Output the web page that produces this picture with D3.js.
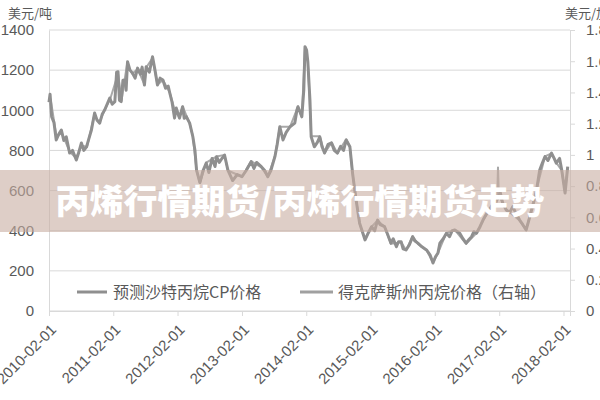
<!DOCTYPE html>
<html><head><meta charset="utf-8">
<script src="https://cdn.jsdelivr.net/npm/d3@7"></script>
<style>body{margin:0;background:#fff}svg{display:block}</style>
</head><body>
<svg id="c" width="600" height="400"></svg>
<script>
// ---- data ----
const cpDates = ["2010-02-01","2010-02-07","2010-02-16","2010-03-01","2010-03-14","2010-03-28","2010-04-12","2010-04-26","2010-05-10","2010-05-29","2010-06-15","2010-07-06","2010-07-20","2010-08-04","2010-08-18","2010-09-02","2010-09-16","2010-09-30","2010-10-18","2010-11-01","2010-11-16","2010-11-30","2010-12-14","2010-12-28","2011-01-12","2011-01-26","2011-02-10","2011-02-20","2011-02-28","2011-03-08","2011-03-18","2011-03-28","2011-04-07","2011-04-15","2011-04-23","2011-05-07","2011-05-21","2011-06-05","2011-06-19","2011-07-05","2011-07-15","2011-07-28","2011-08-07","2011-08-25","2011-09-12","2011-09-26","2011-10-10","2011-10-25","2011-11-10","2011-11-25","2011-12-10","2011-12-19","2012-01-01","2012-01-15","2012-01-25","2012-02-12","2012-03-01","2012-03-10","2012-03-22","2012-04-10","2012-04-28","2012-05-10","2012-05-19","2012-06-07","2012-06-25","2012-07-13","2012-07-28","2012-08-15","2012-09-01","2012-09-10","2012-09-25","2012-10-10","2012-10-25","2012-11-13","2012-12-10","2013-01-05","2013-02-01","2013-02-25","2013-03-25","2013-04-10","2013-04-25","2013-05-22","2013-06-10","2013-06-28","2013-07-15","2013-08-07","2013-08-20","2013-09-04","2013-09-22","2013-10-10","2013-11-01","2013-11-28","2013-12-10","2013-12-16","2014-01-07","2014-01-18","2014-01-25","2014-02-03","2014-02-10","2014-02-22","2014-03-01","2014-03-19","2014-04-05","2014-04-19","2014-05-01","2014-05-16","2014-06-05","2014-06-25","2014-07-10","2014-07-28","2014-08-15","2014-09-01","2014-09-16","2014-10-07","2014-10-22","2014-11-10","2014-12-01","2014-12-15","2015-01-01","2015-01-20","2015-02-07","2015-02-25","2015-03-13","2015-03-28","2015-04-22","2015-05-10","2015-05-28","2015-06-10","2015-06-28","2015-07-10","2015-07-25","2015-08-05","2015-08-22","2015-09-10","2015-09-28","2015-10-10","2015-10-28","2015-11-20","2015-12-16","2016-01-05","2016-01-22","2016-02-05","2016-02-19","2016-03-01","2016-03-20","2016-04-07","2016-04-25","2016-05-10","2016-05-25","2016-06-22","2016-07-10","2016-07-28","2016-08-12","2016-08-28","2016-09-10","2016-09-25","2016-10-15","2016-11-01","2016-11-28","2016-12-15","2016-12-28","2017-01-25","2017-02-07","2017-02-20","2017-03-13","2017-04-01","2017-04-19","2017-05-05","2017-05-28","2017-06-15","2017-07-04","2017-07-25","2017-08-15","2017-09-01","2017-09-19","2017-10-05","2017-10-19","2017-11-05","2017-11-25","2017-12-10","2017-12-22","2018-01-10","2018-01-22","2018-02-10","2018-02-25"];
const cpValues = [1040,1080,968,940,852,880,902,850,868,787,800,752,790,837,800,818,860,902,986,950,936,980,1001,1030,1061,1030,1043,1190,1192,1050,1043,1150,1151,1100,1242,1200,1185,1160,1210,1180,1215,1126,1217,1190,1267,1200,1126,1160,1151,1110,1120,1086,1040,961,1011,961,1018,960,968,936,868,800,702,640,700,737,690,760,720,769,740,760,777,702,650,680,669,700,744,710,740,719,700,669,700,769,830,918,852,890,918,936,1000,1018,968,1100,1317,1300,1242,1051,868,818,840,868,820,787,830,837,800,787,820,800,852,818,687,560,438,400,354,390,420,400,453,430,420,380,338,360,320,345,345,310,304,330,370,350,338,320,304,280,239,270,289,338,360,387,370,400,404,387,360,338,355,370,395,387,420,453,495,515,536,560,590,540,503,490,520,490,453,430,404,470,540,603,702,740,769,750,787,760,737,760,702,588,719];

const txDates = ["2010-02-10","2010-03-15","2010-04-15","2010-05-30","2010-07-05","2010-08-05","2010-09-05","2010-10-15","2010-11-15","2010-12-15","2011-01-15","2011-02-28","2011-03-20","2011-04-20","2011-05-20","2011-06-20","2011-07-28","2011-08-07","2011-09-12","2011-10-10","2011-11-10","2011-12-19","2012-01-15","2012-02-12","2012-03-01","2012-04-10","2012-04-28","2012-05-19","2012-06-07","2012-07-13","2012-09-10","2012-10-25","2012-11-13","2013-02-01","2013-03-25","2013-05-22","2013-06-28","2013-08-07","2013-09-04","2013-11-01","2013-12-16","2014-01-07","2014-01-25","2014-02-10","2014-03-01","2014-04-19","2014-05-16","2014-06-25","2014-07-28","2014-09-16","2014-10-07","2014-10-22","2014-12-01","2015-01-01","2015-02-07","2015-03-13","2015-04-22","2015-05-28","2015-07-25","2015-08-22","2015-09-28","2015-10-28","2015-12-16","2016-01-22","2016-02-19","2016-04-07","2016-05-25","2016-07-28","2016-09-25","2016-11-01","2016-12-28","2017-01-20","2017-01-25","2017-01-30","2017-03-13","2017-05-28","2017-07-04","2017-09-01","2017-10-19","2017-11-25","2017-12-22","2018-01-22","2018-02-10","2018-02-25"];
const txValues = [1.36,1.12,1.14,1.02,0.98,1.06,1.05,1.25,1.21,1.29,1.36,1.52,1.35,1.58,1.52,1.55,1.45,1.56,1.62,1.45,1.48,1.40,1.29,1.24,1.31,1.20,1.12,0.90,0.82,0.95,0.99,1.00,0.90,0.86,0.96,0.92,0.86,0.99,1.18,1.18,1.31,1.24,1.69,1.60,1.12,1.12,1.01,1.08,1.01,1.10,1.05,0.88,0.56,0.46,0.54,0.58,0.54,0.43,0.44,0.39,0.48,0.43,0.39,0.31,0.37,0.50,0.52,0.43,0.50,0.58,0.69,0.70,0.92,0.74,0.65,0.58,0.52,0.78,0.99,1.01,0.95,0.90,0.76,0.92];

const xTickLabels = ["2010-02-01","2011-02-01","2012-02-01","2013-02-01","2014-02-01","2015-02-01","2016-02-01","2017-02-01","2018-02-01"];
const leftTicks = [0,200,400,600,800,1000,1200,1400];
const rightTicks = [0,0.2,0.4,0.6,0.8,1,1.2,1.4,1.6,1.8];
const seriesNames = ["预测沙特丙烷CP价格","得克萨斯州丙烷价格（右轴）"];
const title = "丙烯行情期货/丙烯行情期货走势";

// ---- chart ----
const parse = d3.timeParse("%Y-%m-%d");
const svg = d3.select("#c");
const L = 49, R = 570, T = 30, B = 311;
const x = d3.scaleTime().domain([parse("2010-02-01"), parse("2018-03-10")]).range([L, R]);
const yL = d3.scaleLinear().domain([0,1400]).range([B, T]);
const yR = d3.scaleLinear().domain([0,1.8]).range([B, T]);
const txtCol = "#595959", gridCol = "#d9d9d9";
const latin = "'Liberation Sans', Arial, sans-serif";
const cjk = "'Noto Sans CJK SC', sans-serif";

// gridlines
svg.append("g").selectAll("line").data(leftTicks).join("line")
  .attr("x1", L).attr("x2", R).attr("y1", d => yL(d)).attr("y2", d => yL(d))
  .attr("stroke", gridCol).attr("stroke-width", 1);

// left axis
const gl = svg.append("g").attr("transform", `translate(${L},0)`)
  .call(d3.axisLeft(yL).tickValues(leftTicks).tickSize(0).tickPadding(15).tickFormat(d3.format("d")));
gl.select(".domain").attr("stroke", gridCol);
gl.selectAll("text").attr("fill", txtCol).style("font-family", latin).style("font-size", "15px");

// right axis (labels run past the right edge, as in the reference)
const gr = svg.append("g").attr("transform", `translate(${R},0)`)
  .call(d3.axisRight(yR).tickValues(rightTicks).tickSize(5).tickPadding(11).tickFormat(d => d3.format("~g")(d)));
gr.select(".domain").attr("stroke", gridCol);
gr.selectAll(".tick line").attr("stroke", gridCol);
gr.selectAll("text").attr("fill", txtCol).style("font-family", latin).style("font-size", "15px");

// bottom axis
const gx = svg.append("g").attr("transform", `translate(0,${B})`)
  .call(d3.axisBottom(x).tickValues(xTickLabels.map(parse)).tickSize(5).tickFormat(d3.timeFormat("%Y-%m-%d")));
gx.select(".domain").attr("stroke", gridCol);
gx.selectAll(".tick line").attr("stroke", gridCol);
gx.selectAll("text").attr("fill", txtCol).style("font-family", latin).style("font-size", "15px")
  .attr("x", 0).attr("y", 0).attr("dy", "0.35em")
  .attr("transform", "translate(4,16) rotate(-45)").style("text-anchor", "end");

// unit labels
svg.append("text").attr("x", 8).attr("y", 18).text("美元/吨")
  .attr("fill", txtCol).style("font-family", cjk).style("font-size", "13px");
svg.append("text").attr("x", 565).attr("y", 18).text("美元/加仑")
  .attr("fill", txtCol).style("font-family", cjk).style("font-size", "13px");

// lines
const tx = txDates.map((d, i) => ({d: parse(d), v: txValues[i]}));
const cp = cpDates.map((d, i) => ({d: parse(d), v: cpValues[i]}));
svg.append("path").datum(tx).attr("fill", "none").attr("stroke", "#a8a8a8").attr("stroke-width", 2)
  .attr("stroke-linejoin", "round")
  .attr("d", d3.line().x(p => x(p.d)).y(p => yR(p.v)));
svg.append("path").datum(cp).attr("fill", "none").attr("stroke", "#8f8f8f").attr("stroke-width", 3)
  .attr("stroke-linejoin", "round")
  .attr("d", d3.line().x(p => x(p.d)).y(p => yL(p.v)));

// legend
const lg = svg.append("g");
const legItems = [{x1: 77, x2: 107, tx: 113, col: "#8f8f8f"}, {x1: 300, x2: 333, tx: 338, col: "#a0a0a0"}];
legItems.forEach((it, i) => {
  lg.append("line").attr("x1", it.x1).attr("x2", it.x2).attr("y1", 292).attr("y2", 292)
    .attr("stroke", it.col).attr("stroke-width", 3);
  lg.append("text").attr("x", it.tx).attr("y", 292).attr("dy", "0.35em").text(seriesNames[i])
    .attr("fill", txtCol).style("font-family", cjk).style("font-size", "16px");
});

// watermark band
svg.append("rect").attr("x", 0).attr("y", 170).attr("width", 600).attr("height", 62)
  .attr("fill", "#c8aea2").attr("opacity", 0.6);
svg.append("text").attr("x", 300).attr("y", 202).attr("dy", "0.35em").attr("text-anchor", "middle")
  .text(title).attr("fill", "#ffffff").style("font-family", cjk).style("font-weight", 900).style("font-size", "34px");
</script>
</body></html>
